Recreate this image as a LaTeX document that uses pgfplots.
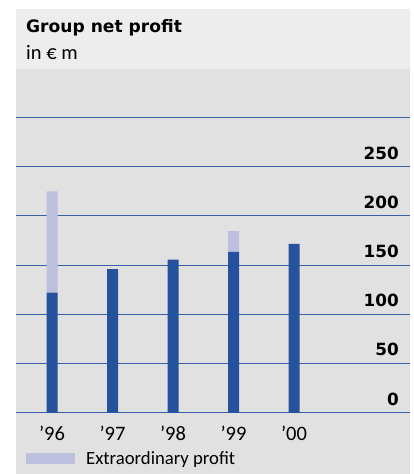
\documentclass[border=0pt]{standalone}
\usepackage{fontspec}
\usepackage{pgfplots}
\pgfplotsset{compat=1.18}
\setmainfont{Carlito}
\newfontfamily\dv{DejaVu Sans}
\definecolor{darkbar}{RGB}{38,81,156}
\definecolor{lightbar}{RGB}{189,191,223}
\definecolor{gridblue}{RGB}{58,94,168}
\definecolor{bgbody}{RGB}{225,225,225}
\definecolor{bghead}{RGB}{237,237,237}
\begin{document}
\begin{tikzpicture}
\useasboundingbox (0,0) rectangle (414pt,474pt);
\fill[white] (0,0) rectangle (414pt,474pt);
\fill[bghead] (16pt,405pt) rectangle (410pt,465pt);
\fill[bgbody] (16pt,0pt) rectangle (410pt,405pt);
\node[anchor=base west, inner sep=0pt] at (26pt,441.3pt) {\dv\bfseries\fontsize{17.1}{20}\selectfont Group net profit};
\node[anchor=base west, inner sep=0pt] at (26pt,414.7pt) {\fontsize{20.5}{24}\selectfont in € m};
\begin{axis}[
  at={(16pt,61.3pt)}, anchor=south west,
  scale only axis, width=394pt, height=295.2pt,
  xmin=-0.595, xmax=5.917, ymin=0, ymax=300,
  ybar stacked, bar width=11pt,
  axis line style={draw=none},
  major tick length=0pt,
  xtick={0,1,2,3,4},
  xticklabels={’96,’97,’98,’99,’00},
  xticklabel style={anchor=base, yshift=-27.3pt, font=\fontsize{20.5}{24}\selectfont},
  ytick={0,50,100,150,200,250,300},
  yticklabels={0,50,100,150,200,250,{}},
  yticklabel pos=right,
  yticklabel style={anchor=base east, xshift=-11pt, yshift=7.5pt, inner sep=0pt, font=\dv\bfseries\fontsize{16.8}{20}\selectfont},
  ymajorgrids,
  grid style={gridblue, line width=1.1pt},
  legend style={at={(0,0)}, anchor=south west, xshift=10pt, yshift=-51.6pt,
    draw=none, fill=none, inner sep=0pt, column sep=11pt,
    nodes={inner sep=0pt, text depth=0pt, font=\fontsize{18.7}{22}\selectfont}},
  legend image code/.code={\fill[#1] (0pt,-6.5pt) rectangle (49pt,4.5pt);},
]
\addplot[fill=darkbar, draw=none, forget plot] coordinates {(0,122) (1,146) (2,155.5) (3,163.5) (4,171.5)};
\addplot[fill=lightbar, draw=none] coordinates {(0,103) (1,0) (2,0) (3,21) (4,0)};
\addlegendentry{Extraordinary profit}
\end{axis}
\end{tikzpicture}
\end{document}
